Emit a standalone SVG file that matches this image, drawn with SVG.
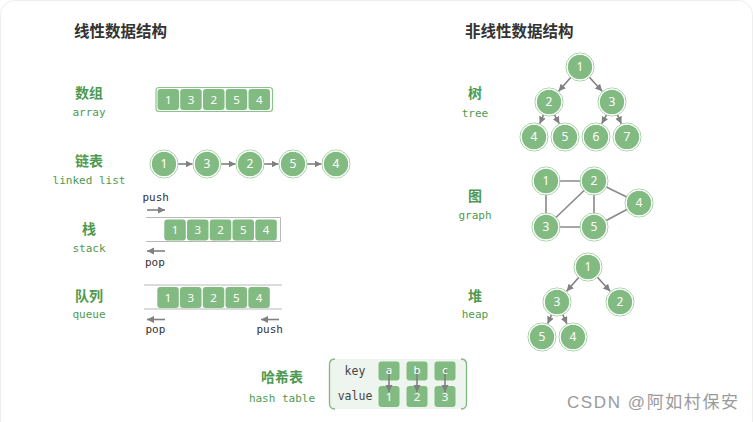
<svg xmlns="http://www.w3.org/2000/svg" width="753" height="422" viewBox="0 0 753 422">
<style>
.title{font-family:"Noto Sans CJK SC","Noto Sans",sans-serif;font-weight:700;font-size:15.5px;fill:#333}
.zh{font-family:"Noto Sans CJK SC","Noto Sans",sans-serif;font-weight:700;font-size:14px;fill:#4e9a50;text-anchor:middle}
.en{font-family:"DejaVu Sans Mono",monospace;font-size:11px;fill:#4e9a50;text-anchor:middle}
.op{font-family:"DejaVu Sans Mono",monospace;font-size:11px;fill:#333}
.kv{font-family:"DejaVu Sans Mono",monospace;font-size:11.5px;fill:#444;text-anchor:middle}
.cell{fill:#82bb82}
.ct{font-family:"Noto Sans","DejaVu Sans",sans-serif;font-size:11.5px;fill:#fff;text-anchor:middle}
.nf{fill:#82bb82;stroke:#fff;stroke-width:1.2}
.nr{fill:none;stroke:#9ccb9c;stroke-width:1}
.nt{font-family:"Noto Sans","DejaVu Sans",sans-serif;font-size:12px;fill:#fff;text-anchor:middle}
.ar{stroke:#808080;stroke-width:1.6;fill:none;marker-end:url(#ah)}
.ed{stroke:#8a8a8a;stroke-width:1.6;fill:none}
.box{stroke:#b8b8b8;stroke-width:1;fill:none}
</style>
<defs>
<marker id="ah" markerUnits="userSpaceOnUse" markerWidth="8" markerHeight="8" refX="7" refY="3.5" orient="auto">
<path d="M0,0 L7,3.5 L0,7 Z" fill="#808080"/>
</marker>
</defs>
<rect x="0.5" y="0.5" width="752" height="440" rx="14" fill="#fff" stroke="#eeeeee"/>

<text class="title" x="74" y="37">线性数据结构</text>
<text class="title" x="465" y="37">非线性数据结构</text>

<g id="connectors">
<!-- linked list -->
<line class="ar" x1="178" y1="164" x2="192.5" y2="164"/>
<line class="ar" x1="221" y1="164" x2="235.5" y2="164"/>
<line class="ar" x1="264" y1="164" x2="278.5" y2="164"/>
<line class="ar" x1="307" y1="164" x2="321.5" y2="164"/>
<!-- stack/queue arrows -->
<line class="ar" x1="147" y1="210" x2="165" y2="210"/>
<line class="ar" x1="165" y1="251" x2="147" y2="251"/>
<line class="ar" x1="165" y1="319.5" x2="147" y2="319.5"/>
<line class="ar" x1="279" y1="319.5" x2="261" y2="319.5"/>
<!-- tree -->
<line class="ar" x1="570.7" y1="77.5" x2="558.6" y2="91.2"/>
<line class="ar" x1="589.4" y1="77.3" x2="602.2" y2="91.3"/>
<line class="ar" x1="543.5" y1="114.9" x2="539.7" y2="123.7"/>
<line class="ar" x1="554.5" y1="114.9" x2="559.3" y2="123.7"/>
<line class="ar" x1="606.5" y1="114.9" x2="601.7" y2="123.7"/>
<line class="ar" x1="617.5" y1="114.9" x2="621.3" y2="123.7"/>
<!-- graph -->
<line class="ed" x1="546" y1="181" x2="594" y2="181"/>
<line class="ed" x1="546" y1="181" x2="546" y2="227"/>
<line class="ed" x1="594" y1="181" x2="546" y2="227"/>
<line class="ed" x1="594" y1="181" x2="594" y2="227"/>
<line class="ed" x1="594" y1="181" x2="639" y2="203"/>
<line class="ed" x1="546" y1="227" x2="594" y2="227"/>
<line class="ed" x1="594" y1="227" x2="639" y2="203"/>
<!-- heap -->
<line class="ar" x1="578.7" y1="277.5" x2="566.6" y2="291.2"/>
<line class="ar" x1="597.4" y1="277.3" x2="610.2" y2="291.3"/>
<line class="ar" x1="551.5" y1="314.9" x2="547.7" y2="323.7"/>
<line class="ar" x1="562.8" y1="314.7" x2="567" y2="323.8"/>
</g>

<g id="array">
<text class="zh" x="89" y="97.5">数组</text>
<text class="en" x="89" y="116">array</text>
<rect x="156" y="87.5" width="116.5" height="24" rx="3" fill="#fff" stroke="#8cc28c" stroke-width="1.2"/>
<rect class="cell" x="157.5" y="89" width="21.5" height="21" rx="3"/><text class="ct" x="168.3" y="103.8">1</text>
<rect class="cell" x="180.2" y="89" width="21.5" height="21" rx="3"/><text class="ct" x="191" y="103.8">3</text>
<rect class="cell" x="203" y="89" width="21.5" height="21" rx="3"/><text class="ct" x="213.7" y="103.8">2</text>
<rect class="cell" x="225.7" y="89" width="21.5" height="21" rx="3"/><text class="ct" x="236.5" y="103.8">5</text>
<rect class="cell" x="248.5" y="89" width="21.5" height="21" rx="3"/><text class="ct" x="259.3" y="103.8">4</text>
</g>

<g id="linkedlist">
<text class="zh" x="89" y="165.5">链表</text>
<text class="en" x="89" y="184">linked list</text>
<circle class="nr" cx="164" cy="164" r="14"/><circle class="nf" cx="164" cy="164" r="12.8"/><text class="nt" x="164" y="168.3">1</text>
<circle class="nr" cx="207" cy="164" r="14"/><circle class="nf" cx="207" cy="164" r="12.8"/><text class="nt" x="207" y="168.3">3</text>
<circle class="nr" cx="250" cy="164" r="14"/><circle class="nf" cx="250" cy="164" r="12.8"/><text class="nt" x="250" y="168.3">2</text>
<circle class="nr" cx="293" cy="164" r="14"/><circle class="nf" cx="293" cy="164" r="12.8"/><text class="nt" x="293" y="168.3">5</text>
<circle class="nr" cx="336" cy="164" r="14"/><circle class="nf" cx="336" cy="164" r="12.8"/><text class="nt" x="336" y="168.3">4</text>
</g>

<g id="stack">
<text class="zh" x="89" y="234">栈</text>
<text class="en" x="89" y="252">stack</text>
<text class="op" x="142.5" y="201">push</text>
<text class="op" x="145" y="266">pop</text>
<path class="box" d="M146,217.5 H280.5 V241.5 H146"/>
<rect class="cell" x="164.3" y="219.5" width="21.5" height="21" rx="3"/><text class="ct" x="175" y="234.3">1</text>
<rect class="cell" x="187" y="219.5" width="21.5" height="21" rx="3"/><text class="ct" x="197.7" y="234.3">3</text>
<rect class="cell" x="209.8" y="219.5" width="21.5" height="21" rx="3"/><text class="ct" x="220.5" y="234.3">2</text>
<rect class="cell" x="232.5" y="219.5" width="21.5" height="21" rx="3"/><text class="ct" x="243.3" y="234.3">5</text>
<rect class="cell" x="255.3" y="219.5" width="21.5" height="21" rx="3"/><text class="ct" x="266" y="234.3">4</text>
</g>

<g id="queue">
<text class="zh" x="89" y="300.5">队列</text>
<text class="en" x="89" y="318">queue</text>
<text class="op" x="145.5" y="333">pop</text>
<text class="op" x="256.5" y="333">push</text>
<line class="box" x1="144" y1="285" x2="282" y2="285"/>
<line class="box" x1="144" y1="309" x2="282" y2="309"/>
<rect class="cell" x="157.3" y="287" width="21.5" height="21" rx="3"/><text class="ct" x="168" y="301.8">1</text>
<rect class="cell" x="180" y="287" width="21.5" height="21" rx="3"/><text class="ct" x="190.8" y="301.8">3</text>
<rect class="cell" x="202.8" y="287" width="21.5" height="21" rx="3"/><text class="ct" x="213.5" y="301.8">2</text>
<rect class="cell" x="225.5" y="287" width="21.5" height="21" rx="3"/><text class="ct" x="236.3" y="301.8">5</text>
<rect class="cell" x="248.3" y="287" width="21.5" height="21" rx="3"/><text class="ct" x="259" y="301.8">4</text>
</g>

<g id="hashtable">
<text class="zh" x="282" y="382">哈希表</text>
<text class="en" x="282" y="401.5">hash table</text>
<rect x="329" y="359" width="138" height="50" rx="5" fill="#eef5ee"/>
<path d="M335,359 Q329.5,359 329.5,364.5 V403.5 Q329.5,409 335,409" fill="none" stroke="#7fb77f" stroke-width="1.3"/>
<path d="M461,359 Q466.5,359 466.5,364.5 V403.5 Q466.5,409 461,409" fill="none" stroke="#7fb77f" stroke-width="1.3"/>
<text class="kv" x="355" y="374.5">key</text>
<text class="kv" x="355" y="400">value</text>
<rect class="cell" x="378.5" y="361.5" width="21" height="19" rx="3"/>
<rect class="cell" x="406.5" y="361.5" width="21" height="19" rx="3"/>
<rect class="cell" x="434.5" y="361.5" width="21" height="19" rx="3"/>
<rect class="cell" x="378.5" y="386" width="21" height="21" rx="3"/>
<rect class="cell" x="406.5" y="386" width="21" height="21" rx="3"/>
<rect class="cell" x="434.5" y="386" width="21" height="21" rx="3"/>
<line class="ar" x1="389" y1="370" x2="389" y2="392"/>
<line class="ar" x1="417" y1="370" x2="417" y2="392"/>
<line class="ar" x1="445" y1="370" x2="445" y2="392"/>
<text class="ct" x="389" y="373.5">a</text>
<text class="ct" x="417" y="373.5">b</text>
<text class="ct" x="445" y="373.5">c</text>
<text class="ct" x="389" y="401">1</text>
<text class="ct" x="417" y="401">2</text>
<text class="ct" x="445" y="401">3</text>
</g>

<g id="tree">
<text class="zh" x="475" y="97.5">树</text>
<text class="en" x="475" y="117">tree</text>
<circle class="nr" cx="580" cy="67" r="14"/><circle class="nf" cx="580" cy="67" r="12.8"/><text class="nt" x="580" y="71.3">1</text>
<circle class="nr" cx="549" cy="102" r="14"/><circle class="nf" cx="549" cy="102" r="12.8"/><text class="nt" x="549" y="106.3">2</text>
<circle class="nr" cx="612" cy="102" r="14"/><circle class="nf" cx="612" cy="102" r="12.8"/><text class="nt" x="612" y="106.3">3</text>
<circle class="nr" cx="534" cy="137" r="14"/><circle class="nf" cx="534" cy="137" r="12.8"/><text class="nt" x="534" y="141.3">4</text>
<circle class="nr" cx="565" cy="137" r="14"/><circle class="nf" cx="565" cy="137" r="12.8"/><text class="nt" x="565" y="141.3">5</text>
<circle class="nr" cx="596" cy="137" r="14"/><circle class="nf" cx="596" cy="137" r="12.8"/><text class="nt" x="596" y="141.3">6</text>
<circle class="nr" cx="627" cy="137" r="14"/><circle class="nf" cx="627" cy="137" r="12.8"/><text class="nt" x="627" y="141.3">7</text>
</g>

<g id="graph">
<text class="zh" x="475" y="200.5">图</text>
<text class="en" x="475" y="219">graph</text>
<circle class="nr" cx="546" cy="181" r="14"/><circle class="nf" cx="546" cy="181" r="12.8"/><text class="nt" x="546" y="185.3">1</text>
<circle class="nr" cx="594" cy="181" r="14"/><circle class="nf" cx="594" cy="181" r="12.8"/><text class="nt" x="594" y="185.3">2</text>
<circle class="nr" cx="639" cy="203" r="14"/><circle class="nf" cx="639" cy="203" r="12.8"/><text class="nt" x="639" y="207.3">4</text>
<circle class="nr" cx="546" cy="227" r="14"/><circle class="nf" cx="546" cy="227" r="12.8"/><text class="nt" x="546" y="231.3">3</text>
<circle class="nr" cx="594" cy="227" r="14"/><circle class="nf" cx="594" cy="227" r="12.8"/><text class="nt" x="594" y="231.3">5</text>
</g>

<g id="heap">
<text class="zh" x="475" y="300.5">堆</text>
<text class="en" x="475" y="318">heap</text>
<circle class="nr" cx="588" cy="267" r="14"/><circle class="nf" cx="588" cy="267" r="12.8"/><text class="nt" x="588" y="271.3">1</text>
<circle class="nr" cx="557" cy="302" r="14"/><circle class="nf" cx="557" cy="302" r="12.8"/><text class="nt" x="557" y="306.3">3</text>
<circle class="nr" cx="620" cy="302" r="14"/><circle class="nf" cx="620" cy="302" r="12.8"/><text class="nt" x="620" y="306.3">2</text>
<circle class="nr" cx="542" cy="337" r="14"/><circle class="nf" cx="542" cy="337" r="12.8"/><text class="nt" x="542" y="341.3">5</text>
<circle class="nr" cx="573" cy="337" r="14"/><circle class="nf" cx="573" cy="337" r="12.8"/><text class="nt" x="573" y="341.3">4</text>
</g>

<text x="567" y="408" font-family="'Liberation Sans','Noto Sans CJK SC',sans-serif" font-size="17" fill="#9a9a9a" textLength="171" lengthAdjust="spacing">CSDN @阿如村保安</text>
</svg>
